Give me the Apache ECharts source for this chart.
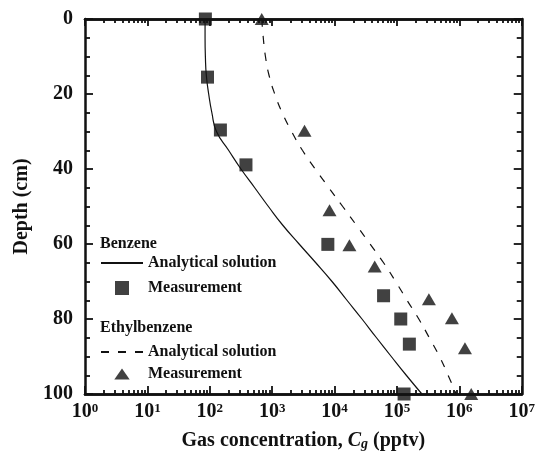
<!DOCTYPE html>
<html>
<head>
<meta charset="utf-8">
<script src="https://cdn.jsdelivr.net/npm/echarts@6/dist/echarts.min.js"></script>
<style>
  html, body { margin: 0; padding: 0; background: #fff; }
  #chart { width: 538px; height: 461px; }
</style>
</head>
<body>
<div id="chart"></div>
<script>
var serif = 'Liberation Serif';
var ink = '#111';

// measurements, depth in cm and gas concentration in pptv
var benzeneDepth = [0, 15.5, 29.6, 38.9, 60.1, 73.8, 80, 86.7, 100];
var benzeneConc = [85, 92, 148, 380, 7800, 61000, 115000, 158000, 130000];
var ethylDepth = [0, 29.8, 51, 60.3, 66, 74.7, 79.8, 87.8, 100];
var ethylConc = [680, 3300, 8300, 17300, 44000, 325000, 760000, 1230000, 1550000];

// analytical solutions
var modelDepth = [0, 5, 10, 15, 20, 25, 30, 35, 40, 45, 50, 55, 60, 65, 70, 75, 80, 85, 90, 95, 100];
var benzeneModel = [84, 84, 85, 88, 96, 108, 128, 200, 316, 525, 870, 1480, 2700, 5000, 9100, 15800, 27500, 47000, 81000, 141000, 251000];
var ethylModel = [680, 720, 780, 890, 1100, 1450, 2050, 3050, 4900, 8100, 13500, 22400, 37000, 61000, 95000, 145000, 224000, 330000, 480000, 660000, 890000];

var xTicks = [1, 10, 100, 1000, 10000, 100000, 1000000, 10000000];
var legendNames = {
  bModel: 'Analytical solution', bMeas: 'Measurement',
  eModel: 'Analytical solution', eMeas: 'Measurement'
};

function pairs(xs, ys) {
  var out = [];
  for (var i = 0; i < xs.length; i++) out.push([xs[i], ys[i]]);
  return out;
}

var minorX = [];
for (var k = 0; k < 7; k++) {
  for (var m = 2; m <= 9; m++) minorX.push(m * Math.pow(10, k));
}

function xAxisDef(pos, ticks, len, labels) {
  return {
    type: 'log', logBase: 10, min: 1, max: 1e7, position: pos,
    axisLine: { show: true, onZero: false, lineStyle: { color: ink, width: 2.5 } },
    axisTick: { show: true, inside: true, length: len, customValues: ticks, lineStyle: { color: ink, width: 1.8 } },
    axisLabel: labels ? {
      show: true, margin: 8, customValues: xTicks,
      formatter: function (v) { return '{b|10}{s|' + Math.round(Math.log10(v)) + '}'; },
      rich: {
        b: { fontFamily: serif, fontWeight: 'bold', fontSize: 20, color: ink, lineHeight: 20 },
        s: { fontFamily: serif, fontWeight: 'bold', fontSize: 13, color: ink, verticalAlign: 'top', lineHeight: 13 }
      }
    } : { show: false },
    splitLine: { show: false }
  };
}

function yAxisDef(pos, labels) {
  return {
    type: 'value', inverse: true, min: 0, max: 100, interval: 20, position: pos,
    axisLine: { show: true, onZero: false, lineStyle: { color: ink, width: 2.5 } },
    axisTick: { show: true, inside: true, length: 8, lineStyle: { color: ink, width: 1.8 } },
    minorTick: { show: true, splitNumber: 4, length: 5, lineStyle: { color: ink, width: 1.8 } },
    axisLabel: labels ? { show: true, margin: 12, fontFamily: serif, fontWeight: 'bold', fontSize: 20, color: ink } : { show: false },
    splitLine: { show: false }
  };
}

var xMain = xAxisDef('bottom', xTicks, 8, true);
xMain.name = '{t|Gas concentration, }{i|C}{g|g}{t| (pptv)}';
xMain.nameLocation = 'middle';
xMain.nameGap = 36;
xMain.nameTextStyle = {
  rich: {
    t: { fontFamily: serif, fontWeight: 'bold', fontSize: 20, color: ink, lineHeight: 20 },
    i: { fontFamily: serif, fontWeight: 'bold', fontStyle: 'italic', fontSize: 20, color: ink, lineHeight: 20 },
    g: { fontFamily: serif, fontWeight: 'bold', fontStyle: 'italic', fontSize: 14, color: ink, lineHeight: 14, verticalAlign: 'bottom', padding: [10, 0, 0, 0] }
  }
};

var yMain = yAxisDef('left', true);
yMain.name = 'Depth (cm)';
yMain.nameLocation = 'middle';
yMain.nameGap = 50;
yMain.nameTextStyle = { fontFamily: serif, fontWeight: 'bold', fontSize: 20, color: ink };

var legendText = { fontFamily: serif, fontWeight: 'bold', fontSize: 16, color: ink };
var squareIcon = 'path://M0 0H10V10H0Z';
var triangleIcon = 'path://M7 0L14 10L0 10Z';

var chart = echarts.init(document.getElementById('chart'), null, { renderer: 'canvas' });

chart.setOption({
  animation: false,
  backgroundColor: '#fff',
  grid: { left: 85, right: 14, top: 19, bottom: 67, containLabel: false },
  xAxis: [
    xMain,
    xAxisDef('bottom', minorX, 4, false),
    xAxisDef('top', xTicks, 7, false),
    xAxisDef('top', minorX, 4, false)
  ],
  yAxis: [yMain, yAxisDef('right', false)],
  graphic: [
    { type: 'text', left: 100, top: 236, style: { text: 'Benzene', font: 'bold 16px ' + serif, fill: ink } },
    { type: 'text', left: 100, top: 320, style: { text: 'Ethylbenzene', font: 'bold 16px ' + serif, fill: ink } }
  ],
  legend: [
    {
      data: [
        { name: 'bModel', itemStyle: { opacity: 0 } },
        { name: 'bMeas', icon: squareIcon }
      ],
      orient: 'vertical', left: 100, top: 255, symbolKeepAspect: true,
      itemWidth: 42, itemHeight: 14, itemGap: 9, padding: 0,
      formatter: function (n) { return legendNames[n]; },
      textStyle: legendText
    },
    {
      data: [
        { name: 'eModel', itemStyle: { opacity: 0 } },
        { name: 'eMeas', icon: triangleIcon }
      ],
      orient: 'vertical', left: 100, top: 344, symbolKeepAspect: true,
      itemWidth: 42, itemHeight: 11, itemGap: 6, padding: 0,
      formatter: function (n) { return legendNames[n]; },
      textStyle: legendText
    }
  ],
  series: [
    {
      name: 'bModel', type: 'line', smooth: true, symbol: 'none',
      data: pairs(benzeneModel, modelDepth),
      lineStyle: { color: ink, width: 1.2, type: 'solid' }, itemStyle: { color: ink }
    },
    {
      name: 'eModel', type: 'line', smooth: true, symbol: 'none',
      data: pairs(ethylModel, modelDepth),
      lineStyle: { color: ink, width: 1.2, type: [8, 9] }, itemStyle: { color: ink }
    },
    {
      name: 'bMeas', type: 'scatter', symbol: 'rect', symbolSize: 13, clip: false,
      data: pairs(benzeneConc, benzeneDepth), itemStyle: { color: ink }, z: 5
    },
    {
      name: 'eMeas', type: 'scatter', symbol: 'triangle', symbolSize: [14, 12], clip: false,
      data: pairs(ethylConc, ethylDepth), itemStyle: { color: ink }, z: 5
    }
  ]
});
</script>
</body>
</html>
